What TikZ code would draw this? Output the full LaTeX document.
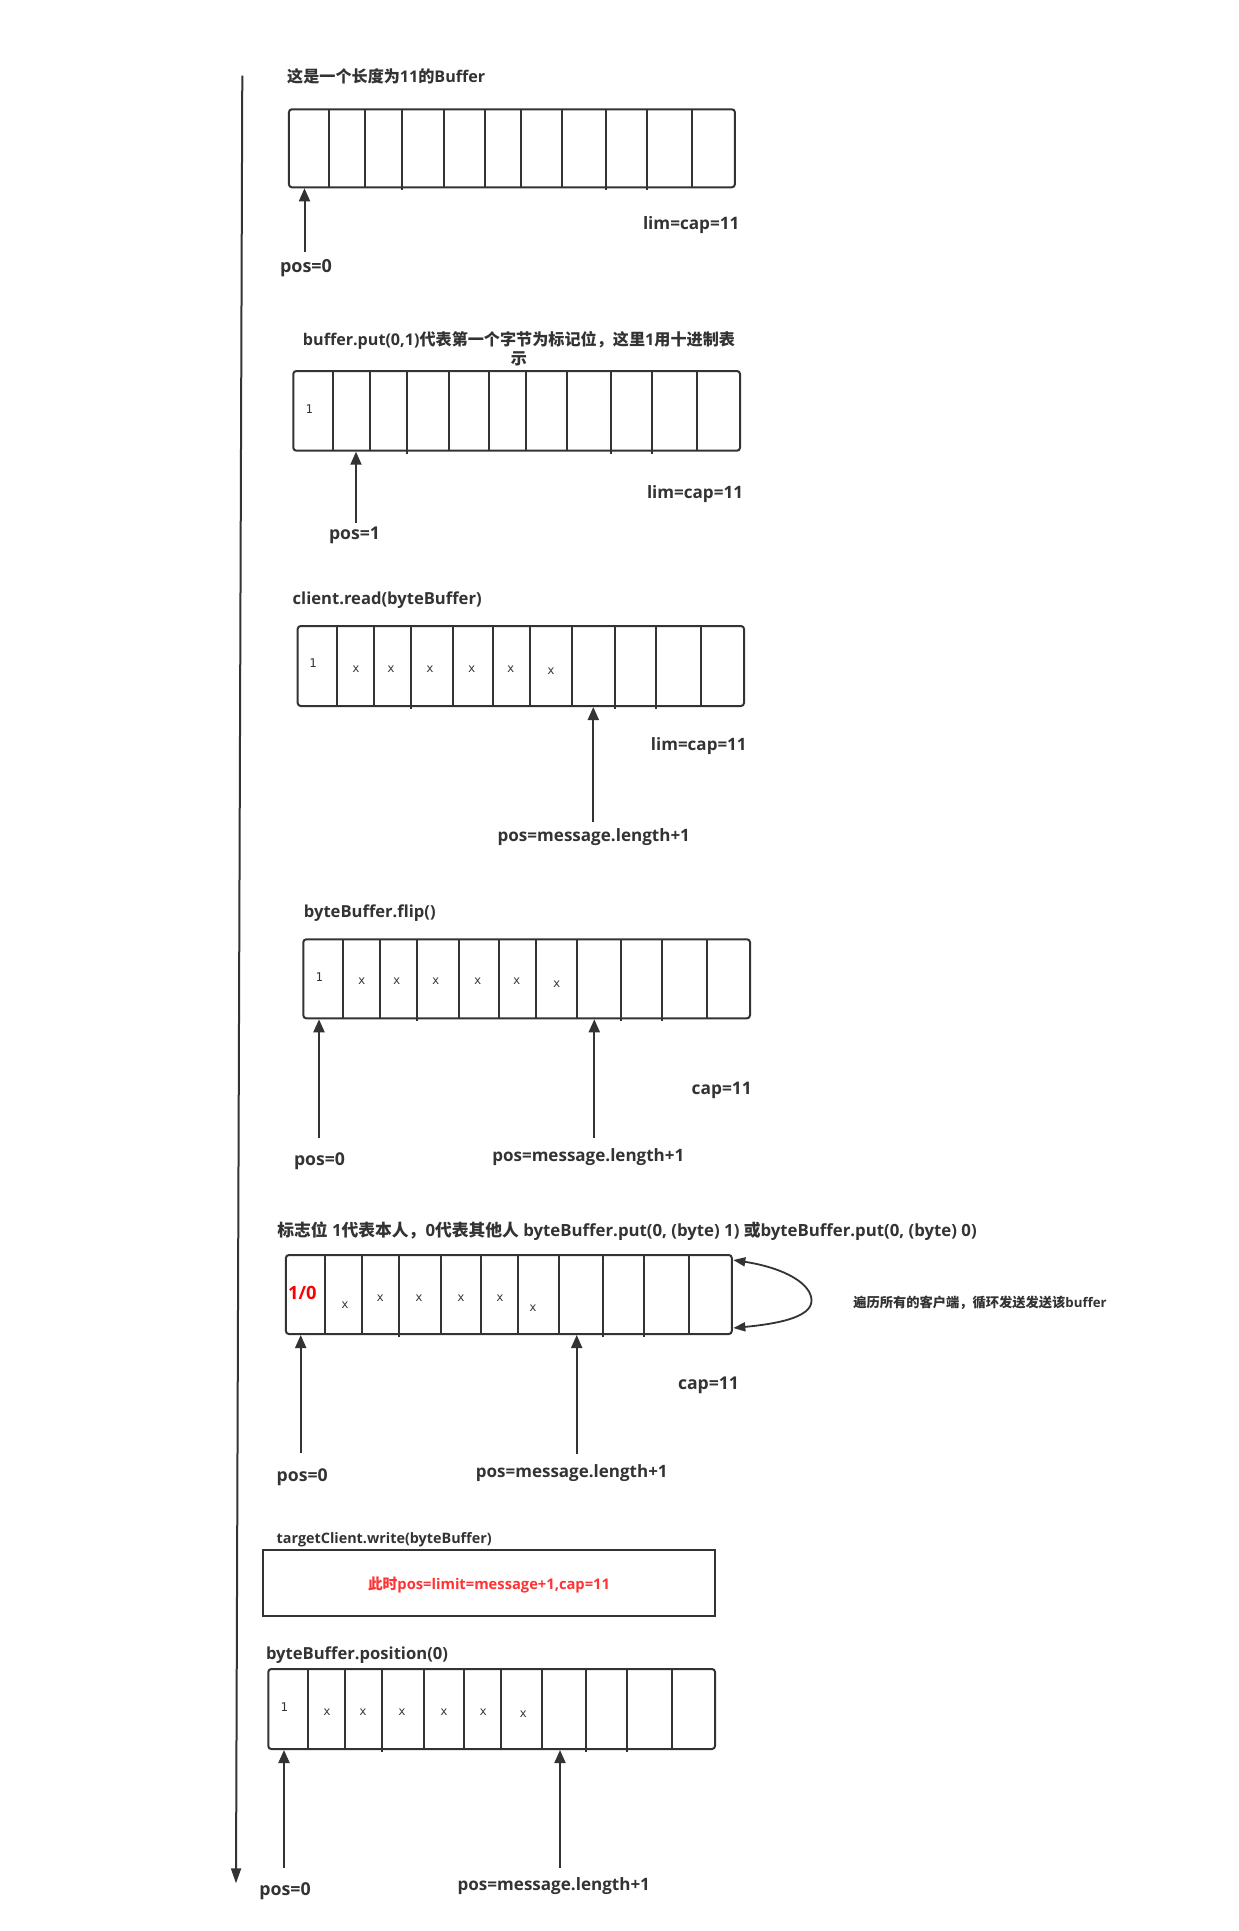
\documentclass[tikz,border=0pt]{standalone}
\usepackage{fontspec}
\setmainfont{Open Sans}
\newfontfamily\cjk{Noto Sans CJK SC}
\newfontfamily\cellfont{DejaVu Sans Mono}
\usepackage{graphicx}
\usetikzlibrary{arrows.meta}
\definecolor{ink}{HTML}{333333}
\definecolor{alert}{HTML}{FF3333}
% scale a label to a given width (in pt)
\newcommand\fitto[2]{\resizebox{#1pt}{!}{#2}}
% a row of 11 byte cells: name, left, top, right, bottom, dividers (x/extra)
\newcommand\bufrow[6]{%
  \node[bufbox, minimum width={(#4-#2)*1pt}, minimum height={(#5-#3)*1pt}]
    (#1) at ({(#2+#4)/2},{(#3+#5)/2}) {};
  \foreach \divx/\divy in {#6} \draw[cellrule] (\divx,#3) -- (\divx,{#5+\divy});
}
\tikzset{
  bufbox/.style={draw=ink, line width=2pt, rounded corners=3pt, inner sep=0pt, outer sep=0pt},
  plainbox/.style={draw=ink, line width=2pt, inner sep=0pt, outer sep=0pt},
  cellrule/.style={draw=ink, line width=2pt},
  lbl/.style={inner sep=0pt, text=ink, font=\bfseries},
  celltxt/.style={inner sep=0pt, text=ink, font=\cellfont\fontsize{12}{12}\selectfont},
  ptr/.style={draw=ink, line width=2pt, shorten >=1pt, -{Triangle[length=13pt,width=11pt]}},
  looparrow/.style={draw=ink, line width=1.8pt, {Triangle[length=12pt,width=9pt]}-{Triangle[length=12pt,width=9pt]}},
  timeline/.style={draw=ink, line width=2pt, -{Triangle[length=15pt,width=10pt]}}
}
\begin{document}
\begin{tikzpicture}[x=1pt,y=-1pt]
\fill[white] (0,0) rectangle (1239,1931);
\useasboundingbox (0,0) rectangle (1239,1931);

% time axis
\coordinate (tltop) at (242.3,75.7);
\coordinate (tlend) at (236,1883.3);
\draw[timeline] (tltop) -- (tlend);

% ---- step 1: empty buffer
\node[lbl] (t1) at (386.2,76) {\fitto{198}{{\cjk 这是一个长度为}11{\cjk 的}Buffer}};
\bufrow{b1}{288.9}{109.3}{734.9}{187.3}{328.5/0,364.6/0,401.8/3,444.2/0,484.5/0,521.4/0,562.0/0,605.7/3,647.1/3,691.8/0}
\node[lbl] (lc1) at (691.2,225) {\fitto{96.4}{lim=cap=11}};
\node[lbl] (p1) at (306,268.5) {\fitto{52}{pos=0}};
\coordinate (a1) at (304.5,252);
\draw[ptr] (a1) -- (a1 |- b1.south);

% ---- step 2: put the flag byte
\node[lbl] (t2) at (519,351) {\fitto{432}{\begin{tabular}{@{}c@{}}buffer.put(0,1){\cjk 代表第一个字节为标记位，这里}1{\cjk 用十进制表}\\{\cjk 示}\end{tabular}}};
\bufrow{b2}{293.3}{371}{740}{450.7}{332.7/0,370/0,406.7/3,449/0,489/0,526/0,566.7/0,611/3,651.7/3,696.7/0}
\node[celltxt] (c2a) at (309.3,409) {1};
\node[lbl] (lc2) at (695,494) {\fitto{96}{lim=cap=11}};
\node[lbl] (p2) at (354.5,535) {\fitto{51}{pos=1}};
\coordinate (a2) at (356,523);
\draw[ptr] (a2) -- (a2 |- b2.south);

% ---- step 3: read from the client
\node[lbl] (t3) at (387.2,600.5) {\fitto{189}{client.read(byteBuffer)}};
\bufrow{b3}{297.7}{626}{744}{706}{336.7/0,374/0,411/3,453/0,492.7/0,530/0,571.7/0,615/3,656/3,701/0}
\node[celltxt] (c3a) at (313,663) {1};
\node[celltxt] (c3b) at (356,669) {x};
\node[celltxt] (c3c) at (391,669) {x};
\node[celltxt] (c3d) at (430,669) {x};
\node[celltxt] (c3e) at (471.7,669) {x};
\node[celltxt] (c3f) at (510.7,669) {x};
\node[celltxt] (c3g) at (551,671) {x};
\node[lbl] (lc3) at (698.8,746.5) {\fitto{95.7}{lim=cap=11}};
\node[lbl] (p3) at (593.8,837.5) {\fitto{192.3}{pos=message.length+1}};
\coordinate (a3) at (593.3,822);
\draw[ptr] (a3) -- (a3 |- b3.south);

% ---- step 4: flip
\node[lbl] (t4) at (369.8,913.5) {\fitto{131.7}{byteBuffer.flip()}};
\bufrow{b4}{303.3}{939.3}{750}{1018.3}{342.7/0,380/0,416.7/3,459/0,499/0,536/0,576.7/0,620.7/3,661.7/3,706.7/0}
\node[celltxt] (c4a) at (319.3,976.7) {1};
\node[celltxt] (c4b) at (361.7,981.7) {x};
\node[celltxt] (c4c) at (396.7,981.7) {x};
\node[celltxt] (c4d) at (435.7,981.7) {x};
\node[celltxt] (c4e) at (477.7,981.7) {x};
\node[celltxt] (c4f) at (516.7,981.7) {x};
\node[celltxt] (c4g) at (556.7,984) {x};
\node[lbl] (cp4) at (721.7,1090) {\fitto{60}{cap=11}};
\node[lbl] (p4a) at (319.5,1161) {\fitto{51}{pos=0}};
\node[lbl] (p4b) at (588.3,1157) {\fitto{192}{pos=message.length+1}};
\coordinate (a4a) at (319,1138);
\coordinate (a4b) at (594.3,1138);
\draw[ptr] (a4a) -- (a4a |- b4.south);
\draw[ptr] (a4b) -- (a4b |- b4.south);

% ---- step 5: flag byte and broadcast loop
\node[lbl] (t5) at (627,1231) {\fitto{699.3}{{\cjk 标志位} 1{\cjk 代表本人，}0{\cjk 代表其他人} byteBuffer.put(0, (byte) 1) {\cjk 或}byteBuffer.put(0, (byte) 0)}};
\bufrow{b5}{285.9}{1255}{731.8}{1334}{325.1/0,361.8/0,398.8/3,441.3/0,480.9/0,517.9/0,559/0,603.4/3,644.1/3,689.2/0}
\node[lbl, text=red] (c5a) at (302.4,1293) {\fitto{28.5}{1/0}};
\node[celltxt] (c5b) at (345.1,1305.7) {x};
\node[celltxt] (c5c) at (380.3,1298) {x};
\node[celltxt] (c5d) at (419.1,1298) {x};
\node[celltxt] (c5e) at (460.9,1298) {x};
\node[celltxt] (c5f) at (500.1,1298) {x};
\node[celltxt] (c5g) at (533.1,1308) {x};
\path (b5.east) ++(1.5,-34.5) coordinate (lpA);
\path (b5.east) ++(1.5,33.5) coordinate (lpB);
\draw[looparrow] (lpA) .. controls (785,1268) and (812,1284) .. (811.5,1301)
  .. controls (811,1318) and (775,1324) .. (lpB);
\node[lbl] (t6) at (980,1303) {\fitto{253.4}{{\cjk 遍历所有的客户端，循环发送发送该}buffer}};
\node[lbl] (cp5) at (708.5,1385) {\fitto{61}{cap=11}};
\node[lbl] (p5a) at (302.2,1477.5) {\fitto{51}{pos=0}};
\node[lbl] (p5b) at (571.8,1473) {\fitto{191.7}{pos=message.length+1}};
\coordinate (a5a) at (300.7,1453);
\coordinate (a5b) at (576.7,1454);
\draw[ptr] (a5a) -- (a5a |- b5.south);
\draw[ptr] (a5b) -- (a5b |- b5.south);

% ---- step 6: write to the target client
\node[lbl] (t7) at (384.2,1539.5) {\fitto{215}{targetClient.write(byteBuffer)}};
\node[plainbox, minimum width=451.7pt, minimum height=65.7pt] (wbox) at (489.15,1582.85) {};
\node[lbl, text=alert] (t8) at (489,1584.5) {\fitto{242}{{\cjk 此时}pos=limit=message+1,cap=11}};

% ---- step 7: rewind position
\node[lbl] (t9) at (357,1655.5) {\fitto{182}{byteBuffer.position(0)}};
\bufrow{b7}{268.3}{1669}{715}{1749}{307.7/0,345/0,382.3/3,424/0,464/0,500.7/0,542.3/0,585.7/3,627.3/3,672.3/0}
\node[celltxt] (c7a) at (284.3,1706.7) {1};
\node[celltxt] (c7b) at (327,1712) {x};
\node[celltxt] (c7c) at (363,1712) {x};
\node[celltxt] (c7d) at (402,1712) {x};
\node[celltxt] (c7e) at (444,1712) {x};
\node[celltxt] (c7f) at (483.3,1712) {x};
\node[celltxt] (c7g) at (523.3,1714) {x};
\node[lbl] (p7a) at (285,1891.5) {\fitto{51.4}{pos=0}};
\node[lbl] (p7b) at (553.8,1886.5) {\fitto{192.3}{pos=message.length+1}};
\coordinate (a7a) at (284,1867.7);
\coordinate (a7b) at (560,1868);
\draw[ptr] (a7a) -- (a7a |- b7.south);
\draw[ptr] (a7b) -- (a7b |- b7.south);
\end{tikzpicture}
\end{document}
